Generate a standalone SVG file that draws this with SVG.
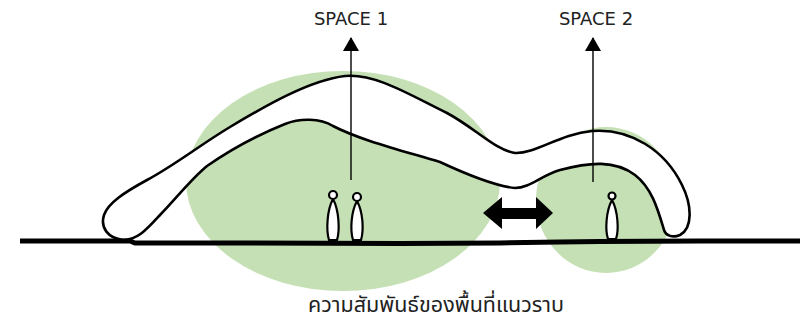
<svg xmlns="http://www.w3.org/2000/svg" width="803" height="328" viewBox="0 0 803 328">
  <style>
    .zone { fill: #c5e0b4; }
    .tube { fill: #ffffff; stroke: #000000; stroke-width: 2.6; stroke-linejoin: round; }
    .person { fill: #ffffff; stroke: #000000; stroke-width: 2.2; }
    .ground { fill: none; stroke: #000000; stroke-width: 5; stroke-linecap: butt; }
    .leader { fill: none; stroke: #000000; stroke-width: 1.4; }
    .label { font-family: "DejaVu Sans", "Noto Sans", sans-serif; font-size: 18px; fill: #222222; text-anchor: middle; }
    .caption { font-family: "Noto Sans Thai", "Noto Sans", "DejaVu Sans", sans-serif; font-size: 21.5px; fill: #222222; text-anchor: middle; }
  </style>
  <defs>
    <marker id="head" viewBox="0 0 14 16" refX="13" refY="8" markerWidth="14" markerHeight="16" markerUnits="userSpaceOnUse" orient="auto">
      <polygon points="0,0 14,8 0,16" fill="#000000"/>
    </marker>
  </defs>

  <rect width="803" height="328" fill="#ffffff"/>

  <!-- green activity zones -->
  <g id="zone-1"><ellipse class="zone" cx="343" cy="181" rx="157" ry="110"/></g>
  <g id="zone-2"><ellipse class="zone" cx="606" cy="200" rx="70" ry="73"/></g>

  <!-- continuous roof band -->
  <g id="roof">
    <path class="tube" d="M 123,240 C 108,238 100,228 104,215 C 108,203 125,192 147,180 C 175,165 200,145 230,127 C 265,106 310,80 345,76 C 375,73 410,95 447,113 C 475,128 495,150 515,153 C 535,154 560,134 592,131 C 630,128 665,150 682,185 C 692,205 693,228 680,235 C 673,238 666,236 664,230 C 658,210 652,188 635,175 C 615,160 590,162 560,170 C 540,176 530,188 515,188 C 495,186 470,176 440,162 C 400,150 360,140 333,126 C 320,118 300,118 285,124 C 260,134 230,150 207,166 C 190,180 175,200 160,215 C 148,228 138,240 123,240 Z"/>
  </g>

  <!-- people -->
  <g id="person-1">
    <path class="person" d="M 333,199 C 327,210 326,230 329,240 L 337,240 C 340,230 339,210 333,199 Z"/>
    <circle class="person" cx="333" cy="195" r="4"/>
  </g>
  <g id="person-2">
    <path class="person" d="M 357,201 C 351,212 350,230 353,240 L 361,240 C 364,230 363,212 357,201 Z"/>
    <circle class="person" cx="357" cy="197" r="4"/>
  </g>
  <g id="person-3">
    <path class="person" d="M 612,200 C 606,211 605,230 608,239 L 616,239 C 619,230 618,211 612,200 Z"/>
    <circle class="person" cx="612" cy="196" r="3.5"/>
  </g>

  <!-- ground line -->
  <g id="ground">
    <path class="ground" d="M 20,241 L 130,241 L 135,243 L 215,243 L 400,243.5 L 500,243 L 560,242 L 600,241.5 L 700,241 L 800,241"/>
  </g>

  <!-- connectors -->
  <g id="connectors">
    <line class="leader" x1="351" y1="180" x2="351" y2="38" marker-end="url(#head)"/>
    <line class="leader" x1="593" y1="182" x2="593" y2="38" marker-end="url(#head)"/>
    <polygon id="link" fill="#000000" points="483,213 502,197 502,208 536,208 536,197 553,213 536,229 536,219 502,219 502,229"/>
  </g>

  <!-- labels -->
  <g id="space-1"><text class="label" x="351" y="25">SPACE 1</text></g>
  <g id="space-2"><text class="label" x="596" y="25">SPACE 2</text></g>
  <g id="caption"><text class="caption" x="436" y="312">ความสัมพันธ์ของพื้นที่แนวราบ</text></g>
</svg>
